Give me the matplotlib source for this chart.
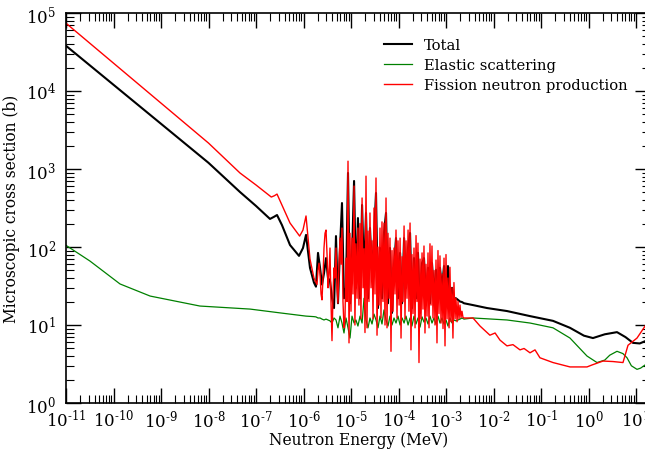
import numpy as np
import matplotlib
matplotlib.use("Agg")
import matplotlib.pyplot as plt
from matplotlib.ticker import LogLocator, NullFormatter, FuncFormatter

plt.rcParams['font.family'] = ['DejaVu Serif']
plt.rcParams['mathtext.fontset'] = 'dejavuserif'

# thermal / epithermal part (MeV, barns)
e_total_lo = [1e-11, 1e-9, 1e-8, 4.6e-8, 1.0e-7, 1.97e-7, 2.4e-7, 2.77e-7, 3.52e-7,
              5.2e-7, 8.04e-7, 9.75e-7, 1.13e-6, 1.37e-6, 1.66e-6]
total_lo = [3.8e4, 3.8e3, 1.2e3, 507, 336, 229, 244, 257, 191,
            106, 77, 97, 143, 54, 35]

e_fiss_lo = [1e-11, 1e-9, 1e-8, 4.6e-8, 1.0e-7, 2.1e-7, 2.45e-7, 2.77e-7, 3.52e-7,
             5.2e-7, 8.3e-7, 9.75e-7, 1.13e-6, 1.37e-6, 1.66e-6]
fiss_lo = [7.4e4, 7.0e3, 2.15e3, 889, 624, 437, 455, 477, 345,
           203, 138, 165, 250, 70, 40]

e_elas_lo = [1e-11, 3.2e-11, 1.37e-10, 5.9e-10, 6.6e-9, 7.5e-8, 3.2e-7, 1.13e-6, 1.66e-6]
elas_lo = [105, 66, 33.6, 23.5, 17.5, 16, 14.3, 13, 12.8]

# resolved resonance region, total and elastic
e_res = [1.83e-6, 2.02e-6, 2.23e-6, 2.45e-6, 2.70e-6, 2.98e-6, 3.28e-6, 3.61e-6,
         3.98e-6, 4.39e-6, 4.83e-6, 5.32e-6, 5.87e-6, 6.46e-6, 7.12e-6, 7.85e-6,
         8.65e-6, 9.53e-6, 1.05e-5, 1.16e-5, 1.27e-5, 1.40e-5, 1.55e-5, 1.71e-5,
         1.88e-5, 2.07e-5, 2.28e-5, 2.51e-5, 2.77e-5, 3.05e-5, 3.36e-5, 3.70e-5,
         4.08e-5, 4.49e-5, 4.95e-5, 5.46e-5, 6.01e-5, 6.62e-5, 7.30e-5, 8.04e-5,
         8.86e-5, 9.76e-5, 1.08e-4, 1.19e-4, 1.31e-4, 1.44e-4, 1.59e-4, 1.75e-4,
         1.92e-4, 2.12e-4, 2.34e-4, 2.57e-4, 2.84e-4, 3.13e-4, 3.44e-4, 3.79e-4,
         4.18e-4, 4.60e-4, 5.07e-4, 5.59e-4, 6.16e-4, 6.78e-4, 7.47e-4, 8.24e-4,
         9.08e-4, 1.00e-3, 1.10e-3, 1.21e-3, 1.34e-3, 1.47e-3, 1.62e-3, 1.79e-3,
         1.97e-3, 2.17e-3, 2.39e-3]
total_res = [31, 84, 54, 33, 46, 72, 40, 37, 22, 16.5, 138, 19, 97, 366, 22, 30,
             889, 19, 72, 702, 30, 235, 22, 345, 40, 273, 22, 175, 46, 130,
             492, 16.5, 97, 22, 151, 273, 19, 97, 14.3, 54, 130, 22, 84, 19,
             130, 30, 97, 151, 16.5, 72, 22, 84, 14.3, 62, 72, 22, 54, 19, 62,
             26, 51, 22, 54, 30, 57, 25, 57, 22, 30, 22, 22, 21, 20, 19.7, 19]
elas_res = [12.7, 12.3, 12.3, 11.9, 11.6, 11.9, 11.6, 11.3, 10.6, 12.3, 11.6, 9.2,
            13.0, 10.6, 7.9, 12.3, 9.2, 6.8, 13.0, 10.6, 11.6, 9.7, 13.0, 10.6,
            22, 11.6, 9.2, 12.3, 10.3, 13.8, 11.6, 9.2, 13.0, 10.3, 15.6, 11.6,
            9.7, 13.0, 10.0, 12.3, 10.6, 13.0, 10.0, 12.3, 10.6, 13.0, 10.0, 12.3,
            9.7, 13.0, 10.3, 12.3, 9.4, 12.7, 10.9, 12.3, 10.3, 13.0, 10.6, 12.3,
            10.3, 13.0, 10.6, 12.3, 10.3, 11.6, 9.7, 12.3, 10.6, 11.6, 11.3, 11.6,
            11.9, 12.3, 11.9]

# resolved resonance region, fission neutron production (finer grid)
e_fiss_res = [1.83e-6, 1.92e-6, 2.02e-6, 2.12e-6, 2.23e-6, 2.34e-6, 2.45e-6, 2.57e-6,
              2.70e-6, 2.84e-6, 2.98e-6, 3.13e-6, 3.28e-6, 3.44e-6, 3.61e-6, 3.79e-6,
              3.98e-6, 4.18e-6, 4.39e-6, 4.60e-6, 4.83e-6, 5.07e-6, 5.32e-6, 5.59e-6,
              5.87e-6, 6.16e-6, 6.46e-6, 6.78e-6, 7.12e-6, 7.47e-6, 7.85e-6, 8.24e-6,
              8.65e-6, 9.08e-6, 9.53e-6, 1.00e-5, 1.05e-5, 1.10e-5, 1.16e-5, 1.21e-5,
              1.27e-5, 1.34e-5, 1.40e-5, 1.47e-5, 1.55e-5, 1.62e-5, 1.71e-5, 1.79e-5,
              1.88e-5, 1.97e-5, 2.07e-5, 2.17e-5, 2.28e-5, 2.39e-5, 2.51e-5, 2.64e-5,
              2.77e-5, 2.91e-5, 3.05e-5, 3.20e-5, 3.36e-5, 3.53e-5, 3.70e-5, 3.89e-5,
              4.08e-5, 4.28e-5, 4.49e-5, 4.72e-5, 4.95e-5, 5.20e-5, 5.46e-5, 5.73e-5,
              6.01e-5, 6.31e-5, 6.62e-5, 6.95e-5, 7.30e-5, 7.66e-5, 8.04e-5, 8.44e-5,
              8.86e-5, 9.30e-5, 9.76e-5, 1.03e-4, 1.08e-4, 1.13e-4, 1.19e-4, 1.24e-4,
              1.31e-4, 1.37e-4, 1.44e-4, 1.51e-4, 1.59e-4, 1.66e-4, 1.75e-4, 1.83e-4,
              1.92e-4, 2.02e-4, 2.12e-4, 2.23e-4, 2.34e-4, 2.45e-4, 2.57e-4, 2.70e-4,
              2.84e-4, 2.98e-4, 3.13e-4, 3.28e-4, 3.44e-4, 3.61e-4, 3.79e-4, 3.98e-4,
              4.18e-4, 4.39e-4, 4.60e-4, 4.83e-4, 5.07e-4, 5.32e-4, 5.59e-4, 5.87e-4,
              6.16e-4, 6.46e-4, 6.78e-4, 7.12e-4, 7.47e-4, 7.85e-4, 8.24e-4, 8.65e-4,
              9.08e-4, 9.53e-4, 1.00e-3, 1.05e-3, 1.10e-3, 1.16e-3, 1.21e-3, 1.27e-3,
              1.34e-3, 1.40e-3, 1.47e-3, 1.55e-3, 1.62e-3, 1.71e-3, 1.79e-3, 1.88e-3,
              1.97e-3, 2.07e-3, 2.17e-3, 2.28e-3, 2.39e-3]
fiss_res = [35, 33, 50, 62, 45, 25, 21, 40, 97, 150, 165, 80, 30, 45, 97, 20,
            6.3, 25, 54, 40, 97, 30, 19, 60, 130, 60, 175, 20, 9.2, 12, 72, 20,
            1260, 5.9, 150, 15, 130, 25, 605, 10, 110, 22, 175, 18, 200, 12, 425, 30,
            95, 8, 810, 9.2, 160, 20, 273, 30, 120, 12, 316, 25, 767, 7.4, 100, 18,
            175, 12.3, 210, 20, 203, 10, 425, 9.2, 150, 22, 130, 4.6, 90, 15, 97, 25,
            165, 12.3, 120, 18, 130, 6.8, 75, 20, 186, 12, 120, 22, 165, 15, 203, 4.8,
            80, 14, 97, 9.2, 140, 20, 112, 3.3, 70, 12, 84, 16, 103, 7.9, 60, 13,
            84, 9.2, 110, 18, 103, 12.3, 50, 10, 68, 5.9, 90, 14, 77, 10.6, 45, 9,
            72, 5.4, 80, 12, 40, 9.2, 55, 11, 30, 6.8, 35, 12, 22, 11, 20, 12,
            18, 12.5, 15, 12.5, 12.3]

# fast region
e_total_hi = [3.7e-3, 7.3e-3, 1.92e-2, 5.87e-2, 0.179, 0.408, 0.8, 1.24, 2.2,
              3.98, 6.0, 8.65, 12.0, 15.5, 20.0]
total_hi = [18, 16.5, 15.1, 13.0, 11.3, 9.2, 7.3, 6.8, 7.6,
            8.1, 7.0, 5.9, 5.8, 6.2, 6.3]

e_elas_hi = [3.7e-3, 1.92e-2, 5.87e-2, 0.179, 0.408, 0.6, 0.93, 1.51, 2.2, 2.8,
             3.98, 5.3, 6.47, 8.0, 10.5, 12.5, 15.5, 20.0]
elas_hi = [12.3, 11.6, 10.6, 9.2, 6.8, 5.3, 4.0, 3.3, 3.55, 4.1,
           4.6, 4.3, 3.8, 3.0, 2.7, 2.8, 3.07, 3.5]

e_fiss_hi = [3.7e-3, 5.2e-3, 8.4e-3, 1.08e-2, 1.37e-2, 1.92e-2, 2.57e-2, 3.61e-2,
             4.4e-2, 5.87e-2, 7.48e-2, 9.5e-2, 0.179, 0.408, 0.93, 1.18, 2.02,
             3.28, 5.32, 6.79, 10.5, 15.5, 20.0]
fiss_hi = [12.3, 9.7, 7.4, 7.9, 6.4, 5.4, 5.6, 4.8,
           5.0, 4.4, 4.8, 3.8, 3.3, 2.9, 2.9, 3.07, 3.45,
           3.4, 3.3, 5.5, 6.8, 9.7, 12.0]

e_total = e_total_lo + e_res + e_total_hi
total = total_lo + total_res + total_hi
e_elas = e_elas_lo + e_res + e_elas_hi
elas = elas_lo + elas_res + elas_hi
e_fiss = e_fiss_lo + e_fiss_res + e_fiss_hi
fiss = fiss_lo + fiss_res + fiss_hi


def pow10(v, pos):
    k = int(round(np.log10(v)))
    return '$\\mathregular{10^{%s}}$' % str(k).replace('-', '\u2010')


fig = plt.figure(figsize=(6.45, 4.52), dpi=100)
ax = fig.add_axes([66 / 645, 48 / 452, 584.3 / 645, 390 / 452])

ax.plot(e_total, total, color='black', lw=1.5, label='Total')
ax.plot(e_elas, elas, color='green', lw=0.9, label='Elastic scattering')
ax.plot(e_fiss, fiss, color='red', lw=1.0, label='Fission neutron production')

ax.set_xscale('log')
ax.set_yscale('log')
ax.set_xlim(1e-11, 20)
ax.set_ylim(1, 1e5)

for axis in (ax.xaxis, ax.yaxis):
    axis.set_major_locator(LogLocator(base=10, numticks=20))
    axis.set_minor_locator(LogLocator(base=10, subs=np.arange(2, 10), numticks=200))
    axis.set_minor_formatter(NullFormatter())
    axis.set_major_formatter(FuncFormatter(pow10))

ax.tick_params(which='both', direction='in', top=True, right=True, labelsize=12)
ax.tick_params(which='major', length=11, width=1.0)
ax.tick_params(axis='x', which='major', pad=4)
ax.tick_params(axis='y', which='major', pad=7)
ax.tick_params(which='minor', length=6, width=0.8)
for s in ax.spines.values():
    s.set_linewidth(1.2)

ax.set_xlabel('Neutron Energy (MeV)', fontsize=11.2)
ax.set_ylabel('Microscopic cross section (b)', fontsize=11.2)
ax.xaxis.set_label_coords(0.5, -(432 - 404) / 390)
ax.yaxis.set_label_coords(-(66 - 20) / 584.3, 0.5)

ax.legend(loc='upper left', bbox_to_anchor=(0.535, 0.95), frameon=False,
          fontsize=10.6, handlelength=1.9, handletextpad=0.8, labelspacing=0.4,
          borderaxespad=0)

fig.savefig('out.png', dpi=100)
